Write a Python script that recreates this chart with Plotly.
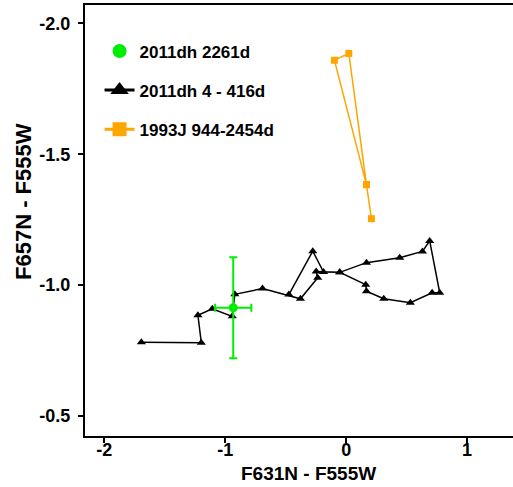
import plotly.graph_objects as go

# 2011dh 4-416d (path order as drawn)
dh_x = [-1.694, -1.198, -1.226, -1.107, -0.942, -0.921, -0.692, -0.378, -0.235, -0.248,
        -0.053, 0.168, 0.443, 0.631, 0.691, 0.774, 0.711, 0.531, 0.311, 0.168, 0.162,
        -0.053, -0.187, -0.276, -0.474]
dh_y = [-0.782, -0.780, -0.885, -0.910, -0.881, -0.965, -0.987, -0.948, -1.028, -1.052,
        -1.049, -1.086, -1.105, -1.129, -1.169, -0.971, -0.971, -0.933, -0.948, -0.977, -1.002,
        -1.049, -1.050, -1.130, -0.964]

# 1993J 944-2454d
j93_x = [0.209, 0.168, -0.097, 0.022, 0.168]
j93_y = [-1.254, -1.384, -1.859, -1.885, -1.384]

# 2011dh 2261d
late_x = [-0.934]
late_y = [-0.914]
late_xerr = [0.15]
late_yerr = [0.193]

names = ["2011dh 2261d", "2011dh 4 - 416d", "1993J 944-2454d"]
x_title = "F631N - F555W"
y_title = "F657N - F555W"
x_ticks = [-2, -1, 0, 1]
x_ticktext = ["-2", "-1", "0", "1"]
y_ticks = [-2.0, -1.5, -1.0, -0.5]
y_ticktext = ["-2.0", "-1.5", "-1.0", "-0.5"]
green = "#00ee00"
orange = "#ffa500"
FAM = "Liberation Sans, Arial, sans-serif"

fig = go.Figure()
fig.add_trace(go.Scatter(x=dh_x, y=dh_y, mode="lines+markers", showlegend=False,
                         line=dict(color="black", width=1.5),
                         marker=dict(symbol="triangle-up", size=8, color="black")))
fig.add_trace(go.Scatter(x=j93_x, y=j93_y, mode="lines+markers", showlegend=False,
                         line=dict(color=orange, width=1.5),
                         marker=dict(symbol="square", size=7, color=orange)))
fig.add_trace(go.Scatter(x=late_x, y=late_y, mode="markers", showlegend=False,
                         marker=dict(symbol="circle", size=9, color=green),
                         error_x=dict(type="data", array=late_xerr, color=green, thickness=2, width=4),
                         error_y=dict(type="data", array=late_yerr, color=green, thickness=2, width=4)))

# legend entries
fig.add_trace(go.Scatter(x=[None], y=[None], mode="markers", name=names[0], legendgroup="a",
                         marker=dict(symbol="circle", size=14, color=green)))
fig.add_trace(go.Scatter(x=[None], y=[None], mode="lines+markers", name=names[1], legendgroup="b",
                         line=dict(color="black", width=3),
                         marker=dict(symbol="triangle-up", size=16, color="black")))
fig.add_trace(go.Scatter(x=[None], y=[None], mode="lines+markers", name=names[2], legendgroup="c",
                         line=dict(color=orange, width=3),
                         marker=dict(symbol="square", size=14, color=orange)))

tickfont = dict(family=FAM, size=18, color="black", weight="bold")

fig.update_layout(
    width=513, height=487,
    margin=dict(l=85, r=0, t=5, b=51),
    paper_bgcolor="white", plot_bgcolor="white",
    font=tickfont,
    showlegend=True,
    legend=dict(x=0.034, y=0.934, xanchor="left", yanchor="top", itemwidth=30,
                bgcolor="rgba(0,0,0,0)", tracegroupgap=14,
                font=dict(family=FAM, size=17, color="black", weight="bold")),
    xaxis=dict(range=[-2.16, 1.38], tickvals=x_ticks, ticktext=x_ticktext,
               showgrid=False, zeroline=False, showline=True, linecolor="black", linewidth=2,
               mirror=True, ticks="outside", ticklen=5, tickwidth=1.5, tickcolor="black",
               tickfont=tickfont, automargin=False, ticklabelstandoff=-9),
    yaxis=dict(range=[-0.424, -2.07], tickvals=y_ticks, ticktext=y_ticktext,
               showgrid=False, zeroline=False, showline=True, linecolor="black", linewidth=2,
               ticks="outside", ticklen=5, tickwidth=1.5, tickcolor="black",
               tickfont=tickfont, automargin=False, ticklabelstandoff=4),
    annotations=[
        dict(text=x_title, xref="paper", yref="paper", x=0.523, y=-0.088,
             xanchor="center", yanchor="middle", showarrow=False,
             font=dict(family=FAM, size=19, color="black", weight="bold")),
        dict(text=y_title, xref="paper", yref="paper", x=-0.1425, y=0.543, textangle=-90,
             xanchor="center", yanchor="middle", showarrow=False,
             font=dict(family=FAM, size=22, color="black", weight="bold")),
    ],
)

fig.write_html("out.html", config={"displayModeBar": False},
               post_script="document.body.style.margin='0';document.body.style.overflow='hidden';")
